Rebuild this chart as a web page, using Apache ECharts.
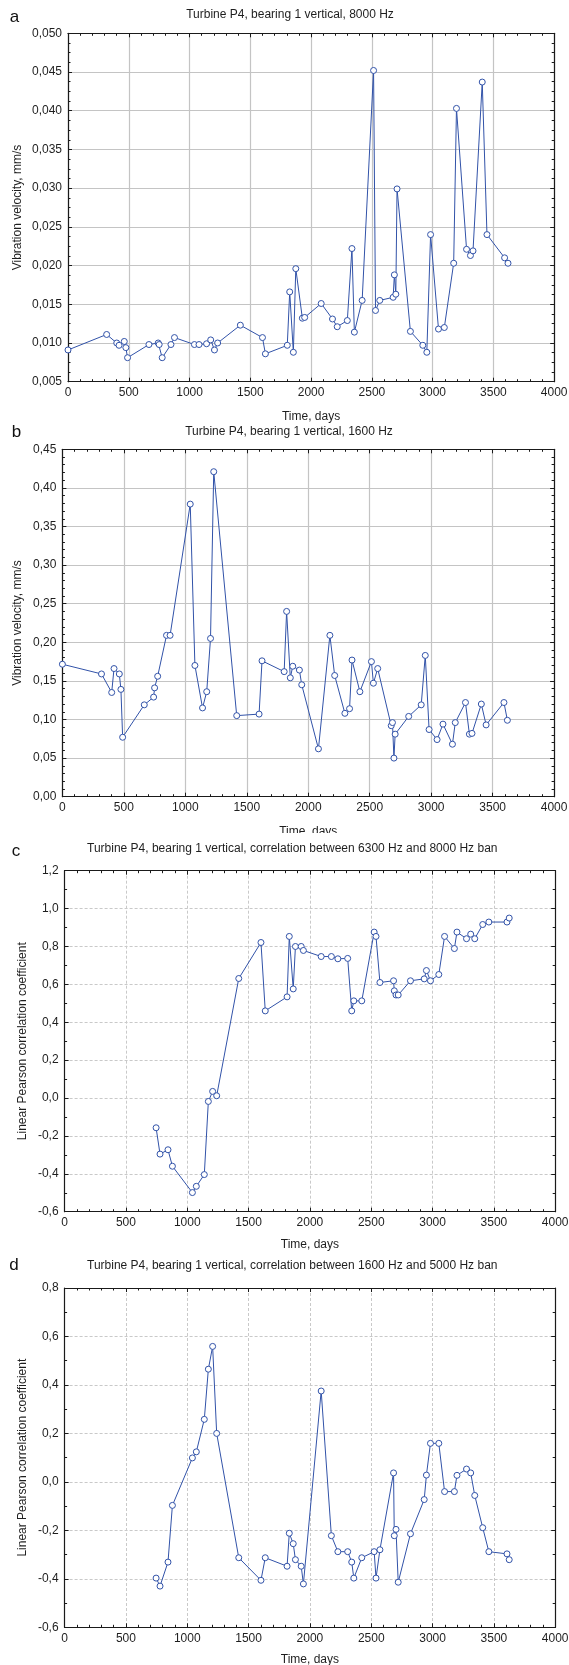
<!DOCTYPE html>
<html>
<head>
<meta charset="utf-8">
<script src="https://cdn.jsdelivr.net/npm/echarts@6/dist/echarts.min.js"></script>
<style>
  html, body { margin: 0; padding: 0; background: #ffffff; }
  body { position: relative; width: 569px; height: 1665px; overflow: hidden; }
  .panel { position: absolute; left: 0; width: 569px; overflow: hidden; }
</style>
</head>
<body>
<div id="pa" class="panel" style="top:0px;height:430px;"></div>
<div id="pb" class="panel" style="top:415px;height:418px;"></div>
<div id="pc" class="panel" style="top:833px;height:420px;"></div>
<div id="pd" class="panel" style="top:1248px;height:417px;"></div>
<script>
// ---- data ----
const DAYS_AB = [0, 318, 401, 420, 463, 476, 490, 666, 742, 750, 775, 847, 876, 1040, 1078, 1140, 1174, 1205, 1231, 1418,
  1600, 1624, 1804, 1824, 1854, 1874, 1928, 1947, 2083, 2176, 2215, 2298, 2336, 2356, 2420, 2514, 2530, 2565, 2675, 2685,
  2697, 2707, 2817, 2919, 2952, 2983, 3048, 3096, 3173, 3196, 3279, 3311, 3332, 3408, 3447, 3592, 3620];
const VEL_8000 = [0.0091, 0.0111, 0.0100, 0.0097, 0.0102, 0.0094, 0.0081, 0.0098, 0.0100, 0.0098, 0.0081, 0.0098, 0.0107,
  0.0098, 0.0098, 0.0099, 0.0104, 0.0091, 0.0100, 0.0123, 0.0107, 0.0086, 0.0097, 0.0166, 0.0088, 0.0196, 0.0132, 0.0133,
  0.0151, 0.0131, 0.0121, 0.0129, 0.0222, 0.0114, 0.0155, 0.0452, 0.0142, 0.0155, 0.0159, 0.0188, 0.0163, 0.0299, 0.0115,
  0.0097, 0.0088, 0.0240, 0.0118, 0.0120, 0.0203, 0.0403, 0.0221, 0.0213, 0.0219, 0.0437, 0.0240, 0.0210, 0.0203];
const VEL_1600 = [0.1716, 0.159, 0.135, 0.166, 0.159, 0.139, 0.077, 0.119, 0.129, 0.141, 0.156, 0.209, 0.209, 0.379, 0.170,
  0.115, 0.136, 0.205, 0.421, 0.105, 0.107, 0.176, 0.162, 0.240, 0.154, 0.169, 0.164, 0.145, 0.062, 0.209, 0.157, 0.108,
  0.114, 0.177, 0.136, 0.175, 0.147, 0.166, 0.092, 0.096, 0.050, 0.081, 0.104, 0.119, 0.183, 0.087, 0.074, 0.094, 0.068,
  0.096, 0.122, 0.081, 0.082, 0.120, 0.093, 0.122, 0.099];
const DAYS_CD = [746, 778, 843, 879, 1042, 1074, 1139, 1172, 1207, 1240, 1420, 1601, 1636, 1814, 1832, 1864, 1882, 1929,
  1947, 2092, 2175, 2228, 2308, 2341, 2358, 2423, 2524, 2539, 2571, 2682, 2688, 2702, 2720, 2820, 2932, 2950, 2983, 3051,
  3098, 3178, 3199, 3277, 3311, 3344, 3409, 3459, 3607, 3625];
const CORR_6300_8000 = [-0.157, -0.296, -0.273, -0.360, -0.499, -0.466, -0.404, -0.018, 0.035, 0.012, 0.631, 0.821, 0.460,
  0.534, 0.853, 0.576, 0.800, 0.800, 0.779, 0.747, 0.747, 0.735, 0.737, 0.460, 0.513, 0.513, 0.876, 0.853, 0.610, 0.619,
  0.566, 0.544, 0.544, 0.619, 0.629, 0.673, 0.619, 0.652, 0.853, 0.789, 0.876, 0.841, 0.865, 0.841, 0.916, 0.929, 0.929, 0.950];
const CORR_1600_5000 = [-0.397, -0.430, -0.331, -0.097, 0.099, 0.124, 0.258, 0.465, 0.559, 0.200, -0.313, -0.406, -0.313,
  -0.348, -0.212, -0.255, -0.321, -0.348, -0.421, 0.375, -0.222, -0.288, -0.288, -0.331, -0.397, -0.313, -0.288, -0.397,
  -0.280, 0.037, -0.222, -0.196, -0.414, -0.214, -0.073, 0.028, 0.159, 0.159, -0.040, -0.040, 0.027, 0.053, 0.037, -0.056,
  -0.189, -0.288, -0.297, -0.321];

const TITLES = [
  'Turbine P4, bearing 1 vertical, 8000 Hz',
  'Turbine P4, bearing 1 vertical, 1600 Hz',
  'Turbine P4, bearing 1 vertical, correlation between 6300 Hz and 8000 Hz bands',
  'Turbine P4, bearing 1 vertical, correlation between 1600 Hz and 5000 Hz bands'
];
const LETTERS = ['a', 'b', 'c', 'd'];
const X_NAME = 'Time, days';
const Y_NAMES = ['Vibration velocity, mm/s', 'Vibration velocity, mm/s',
  'Linear Pearson correlation coefficient', 'Linear Pearson correlation coefficient'];

// ---- styling ----
const FONT = '"Liberation Sans", Arial, Helvetica, sans-serif';
const TEXT = '#1e1e1e';
const BLUE = '#3152a8';
const AXIS = '#1a1a1a';

function commaFmt(dec) {
  return function (v) {
    if (Math.abs(v) < 1e-9) v = 0;
    return v.toFixed(dec).replace('.', ',');
  };
}

function buildOption(p) {
  const split = {
    show: true,
    lineStyle: p.dashed
      ? { color: '#c9c9c9', width: 1, type: [3, 2] }
      : { color: '#c4c4c4', width: 1.2, type: 'solid' }
  };
  const axisLine = { show: true, onZero: false, lineStyle: { color: AXIS, width: 1.2 } };
  const tick = { show: true, inside: true, length: 4, lineStyle: { color: AXIS, width: 1 } };
  const xMinor = { show: true, splitNumber: 5, length: 2.5, lineStyle: { color: AXIS, width: 1 } };
  const yMinor = { show: true, splitNumber: p.yMinor, length: 2.5, lineStyle: { color: AXIS, width: 1 } };
  const labelStyle = { fontFamily: FONT, fontSize: 12, color: TEXT };

  const titleStyle = { text: p.title, font: '12px ' + FONT, fill: TEXT };
  if (p.titleWidth) {
    Object.assign(titleStyle, { width: p.titleWidth, overflow: 'truncate', ellipsis: '', align: 'left', verticalAlign: 'middle' });
  } else {
    Object.assign(titleStyle, { align: 'center', verticalAlign: 'middle' });
  }

  return {
    animation: false,
    backgroundColor: 'transparent',
    grid: {
      left: p.grid[0], top: p.grid[1], width: p.grid[2], height: p.grid[3],
      containLabel: false, outerBoundsMode: 'none'
    },
    graphic: [
      { type: 'text', x: p.titleX, y: p.titleY, style: titleStyle, silent: true },
      { type: 'text', x: p.letterX, y: p.letterY,
        style: { text: p.letter, font: '17px ' + FONT, fill: '#111', align: 'center', verticalAlign: 'middle' }, silent: true }
    ],
    xAxis: [
      {
        type: 'value', position: 'bottom', min: 0, max: 4000, interval: 500,
        name: X_NAME, nameLocation: 'middle', nameGap: p.xNameGap, nameMoveOverlap: false,
        nameTextStyle: { fontFamily: FONT, fontSize: 12, color: TEXT, verticalAlign: 'middle' },
        axisLine: axisLine, axisTick: tick, minorTick: xMinor,
        splitLine: split, minorSplitLine: { show: false },
        axisLabel: Object.assign({ margin: 5, formatter: v => String(v) }, labelStyle)
      },
      {
        type: 'value', position: 'top', min: 0, max: 4000, interval: 500,
        axisLine: axisLine, axisTick: tick, minorTick: xMinor,
        splitLine: { show: false }, axisLabel: { show: false }
      }
    ],
    yAxis: [
      {
        type: 'value', position: 'left', min: p.yMin, max: p.yMax, interval: p.yInt,
        name: p.yName, nameLocation: 'middle', nameGap: p.yNameGap, nameMoveOverlap: false,
        nameTextStyle: { fontFamily: FONT, fontSize: 12, color: TEXT, verticalAlign: 'middle' },
        axisLine: axisLine, axisTick: tick, minorTick: yMinor,
        splitLine: split, minorSplitLine: { show: false },
        axisLabel: Object.assign({ margin: 6, formatter: commaFmt(p.dec) }, labelStyle)
      },
      {
        type: 'value', position: 'right', min: p.yMin, max: p.yMax, interval: p.yInt,
        axisLine: axisLine, axisTick: tick, minorTick: yMinor,
        splitLine: { show: false }, axisLabel: { show: false }
      }
    ],
    series: [{
      type: 'line',
      xAxisIndex: 0, yAxisIndex: 0,
      data: p.days.map((d, i) => [d, p.vals[i]]),
      symbol: 'circle', symbolSize: 6,
      showAllSymbol: true,
      clip: false,
      lineStyle: { color: BLUE, width: 1 },
      itemStyle: { color: '#ffffff', borderColor: BLUE, borderWidth: 1 },
      emphasis: { disabled: true },
      z: 5
    }]
  };
}

const PANELS = [
  { el: 'pa', days: DAYS_AB, vals: VEL_8000, grid: [68, 33.3, 486.2, 348.4],
    yMin: 0.005, yMax: 0.050, yInt: 0.005, dec: 3, yMinor: 4, dashed: false,
    yNameGap: 50.4, xNameGap: 34.5, titleX: 290, titleY: 15, letterX: 14.5, letterY: 17 },
  { el: 'pb', days: DAYS_AB, vals: VEL_1600, grid: [62.4, 34.3, 491.7, 347.4],
    yMin: 0, yMax: 0.45, yInt: 0.05, dec: 2, yMinor: 5, dashed: false,
    yNameGap: 44.8, xNameGap: 34.5, titleX: 289, titleY: 16.7, letterX: 16.5, letterY: 17 },
  { el: 'pc', days: DAYS_CD, vals: CORR_6300_8000, grid: [64.6, 37.7, 490.6, 341],
    yMin: -0.6, yMax: 1.2, yInt: 0.2, dec: 1, yMinor: 2, dashed: true, titleWidth: 416,
    yNameGap: 42.1, xNameGap: 33, titleX: 87, titleY: 16, letterX: 16, letterY: 18.5 },
  { el: 'pd', days: DAYS_CD, vals: CORR_1600_5000, grid: [64.6, 40, 490.6, 339.3],
    yMin: -0.6, yMax: 0.8, yInt: 0.2, dec: 1, yMinor: 2, dashed: true, titleWidth: 416,
    yNameGap: 42.1, xNameGap: 32.5, titleX: 87, titleY: 17.7, letterX: 14, letterY: 17 }
];

PANELS.forEach((p, i) => {
  p.title = TITLES[i];
  p.letter = LETTERS[i];
  p.yName = Y_NAMES[i];
  const chart = echarts.init(document.getElementById(p.el), null, { renderer: 'canvas' });
  chart.setOption(buildOption(p));
});
</script>
</body>
</html>
